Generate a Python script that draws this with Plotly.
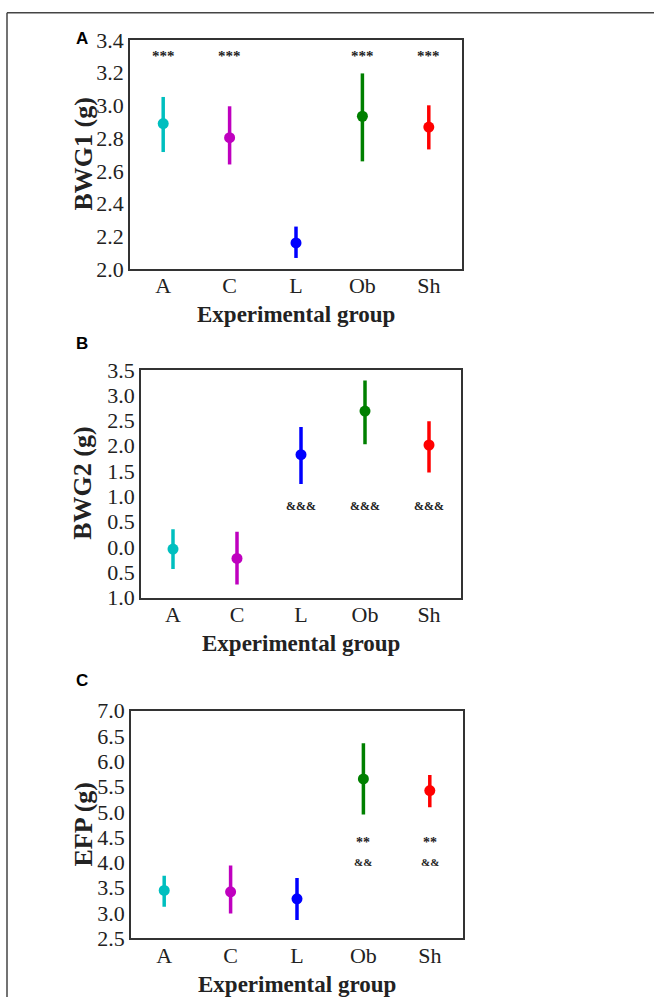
import plotly.graph_objects as go

W, H = 654, 1011

groups = ["A", "C", "L", "Ob", "Sh"]
colors = ["#00BFBF", "#BF00BF", "#0000FF", "#008000", "#FF0000"]

bwg1_mean = [2.889, 2.803, 2.159, 2.934, 2.868]
bwg1_hi = [3.052, 2.995, 2.259, 3.196, 3.001]
bwg1_lo = [2.715, 2.639, 2.067, 2.658, 2.731]
bwg1_sig = ["***", "***", "", "***", "***"]
bwg1_sig_y = 3.30

bwg2_mean = [-0.041, -0.225, 1.825, 2.685, 2.015]
bwg2_hi = [0.353, 0.300, 2.370, 3.290, 2.482]
bwg2_lo = [-0.436, -0.738, 1.246, 2.028, 1.470]
bwg2_sig = ["", "", "&&&", "&&&", "&&&"]
bwg2_sig_y = 0.81

efp_mean = [3.447, 3.421, 3.283, 5.651, 5.421]
efp_hi = [3.737, 3.941, 3.691, 6.355, 5.730]
efp_lo = [3.125, 2.993, 2.862, 4.947, 5.092]
efp_sig1 = ["", "", "", "**", "**"]
efp_sig1_y = 4.40
efp_sig2 = ["", "", "", "&&", "&&"]
efp_sig2_y = 4.0

bwg1_ticks = [2.0, 2.2, 2.4, 2.6, 2.8, 3.0, 3.2, 3.4]
bwg1_ticktext = ["2.0", "2.2", "2.4", "2.6", "2.8", "3.0", "3.2", "3.4"]
bwg2_ticks = [-1.0, -0.5, 0.0, 0.5, 1.0, 1.5, 2.0, 2.5, 3.0, 3.5]
bwg2_ticktext = ["1.0", "0.5", "0.0", "0.5", "1.0", "1.5", "2.0", "2.5", "3.0", "3.5"]
efp_ticks = [2.5, 3.0, 3.5, 4.0, 4.5, 5.0, 5.5, 6.0, 6.5, 7.0]
efp_ticktext = ["2.5", "3.0", "3.5", "4.0", "4.5", "5.0", "5.5", "6.0", "6.5", "7.0"]

panels = [
    dict(mean=bwg1_mean, hi=bwg1_hi, lo=bwg1_lo, ticks=bwg1_ticks, ticktext=bwg1_ticktext,
         yrange=[2.0, 3.4], ytitle="BWG1 (g)", letter="A",
         box=(130, 462, 38, 267),
         sig=[(bwg1_sig, bwg1_sig_y, 15)]),
    dict(mean=bwg2_mean, hi=bwg2_hi, lo=bwg2_lo, ticks=bwg2_ticks, ticktext=bwg2_ticktext,
         yrange=[-1.0, 3.5], ytitle="BWG2 (g)", letter="B",
         box=(141, 461, 368, 596),
         sig=[(bwg2_sig, bwg2_sig_y, 12)]),
    dict(mean=efp_mean, hi=efp_hi, lo=efp_lo, ticks=efp_ticks, ticktext=efp_ticktext,
         yrange=[2.5, 7.0], ytitle="EFP (g)", letter="C",
         box=(131, 463, 709, 937),
         sig=[(efp_sig1, efp_sig1_y, 14), (efp_sig2, efp_sig2_y, 11)]),
]

SERIF = "Liberation Serif, Times New Roman, serif"
SANS = "Liberation Sans, Arial, sans-serif"


def py(y):
    """target picture row -> paper fraction (empirical correction of the capture)"""
    return 1 - ((y - 9.9) / 0.976) / H


fig = go.Figure()
annotations = []
shapes = []
layout_axes = {}

for i, p in enumerate(panels):
    n = "" if i == 0 else str(i + 1)
    xa, ya = "x" + n, "y" + n
    x0, x1, y0, y1 = p["box"]
    for j, g in enumerate(groups):
        fig.add_trace(go.Scatter(
            x=[g, g], y=[p["lo"][j], p["hi"][j]], mode="lines",
            line=dict(color=colors[j], width=3.5),
            xaxis=xa, yaxis=ya, showlegend=False, hoverinfo="skip"))
    fig.add_trace(go.Scatter(
        x=groups, y=p["mean"], mode="markers",
        marker=dict(color=colors, size=11, line=dict(width=0)),
        xaxis=xa, yaxis=ya, showlegend=False))
    for labels, yv, fs in p["sig"]:
        for j, g in enumerate(groups):
            if labels[j]:
                annotations.append(dict(
                    x=g, y=yv, xref=xa, yref=ya, text="<b>" + labels[j] + "</b>",
                    showarrow=False, font=dict(family=SERIF, size=fs, color="#222")))
    xkey = "xaxis" + n
    ykey = "yaxis" + n
    layout_axes[xkey] = dict(
        domain=[x0 / W, x1 / W], anchor=ya, type="category",
        categoryorder="array", categoryarray=groups, range=[-0.5, 4.5],
        showgrid=False, zeroline=False, ticks="", ticklabelstandoff=-4,
        showline=True, mirror=True, linecolor="#333", linewidth=1.5,
        tickfont=dict(family=SERIF, size=22, color="#222"),
    )
    layout_axes[ykey] = dict(
        domain=[py(y1), py(y0)], anchor=xa, range=p["yrange"],
        tickvals=p["ticks"], ticktext=p["ticktext"],
        showgrid=False, zeroline=False, ticks="",
        showline=True, mirror=True, linecolor="#333", linewidth=1.5,
        tickfont=dict(family=SERIF, size=22, color="#222"),
    )
    annotations.append(dict(
        x=(x0 + x1) / 2 / W, y=py(y1 + 46), xref="paper", yref="paper",
        text="<b>Experimental group</b>", showarrow=False,
        font=dict(family=SERIF, size=23, color="#222"),
        xanchor="center", yanchor="middle"))
    annotations.append(dict(
        x=83 / W, y=py((y0 + y1) / 2), xref="paper", yref="paper",
        text="<b>" + p["ytitle"] + "</b>", showarrow=False, textangle=-90,
        font=dict(family=SERIF, size=26, color="#222"),
        xanchor="center", yanchor="middle"))

letter_pos = [(82, 36), (82, 342), (82, 679)]
for p, (lx, ly) in zip(panels, letter_pos):
    annotations.append(dict(
        x=lx / W, y=py(ly), xref="paper", yref="paper",
        text="<b>" + p["letter"] + "</b>", showarrow=False,
        font=dict(family=SANS, size=17, color="#000"),
        xanchor="center", yanchor="middle"))

top = min(py(8), 1 - 0.8 / H)
shapes.append(dict(type="line", xref="paper", yref="paper",
                   x0=7 / W, x1=1, y0=top, y1=top,
                   line=dict(color="#444", width=1.5)))
shapes.append(dict(type="line", xref="paper", yref="paper",
                   x0=7 / W, x1=7 / W, y0=0, y1=top,
                   line=dict(color="#444", width=1.5)))

fig.update_layout(
    width=W, height=H, margin=dict(l=0, r=0, t=0, b=0),
    paper_bgcolor="white", plot_bgcolor="white",
    annotations=annotations, shapes=shapes, **layout_axes)

fig.write_html(
    "out.html", config={"displayModeBar": False},
    post_script=(
        "document.documentElement.style.overflow='hidden';"
        "document.body.style.margin='0';document.body.style.overflow='hidden';"
        "var d=document.getElementById('{plot_id}');"
        "d.style.position='fixed';d.style.top='0px';d.style.left='0px';"
    ))
